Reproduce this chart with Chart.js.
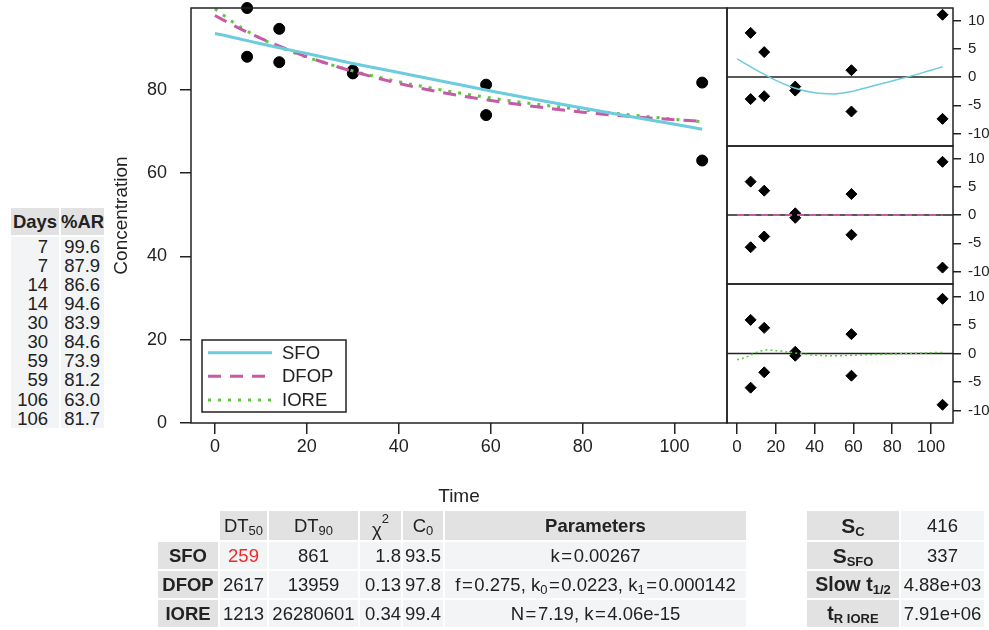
<!DOCTYPE html>
<html>
<head>
<meta charset="utf-8">
<script src="https://cdn.jsdelivr.net/npm/chart.js@4.4.1/dist/chart.umd.min.js"></script>
<style>
  body { margin: 0; background: #fff; font-family: "Liberation Sans", Arial, sans-serif; color: #222; }
  #wrap { position: relative; width: 989px; height: 630px; overflow: hidden; }
  canvas { position: absolute; }
  table { position: absolute; border-collapse: separate; border-spacing: 2px; font-size: 18.5px; }
  td { padding: 0; text-align: center; white-space: nowrap; }
  .hd { background: #e2e2e2; font-weight: bold; }
  .bd { background: #f2f4f5; }
  sub { font-size: 13px; vertical-align: -3px; line-height: 0; }
  sup { font-size: 13px; vertical-align: 9px; line-height: 0; }
</style>
</head>
<body>
<div id="wrap">
  <table id="obsTable" style="left:9px; top:206px;"></table>
  <canvas id="main" width="640" height="515" style="left:100px; top:0px;"></canvas>
  <canvas id="res1" width="269" height="153" style="left:720px; top:0px;"></canvas>
  <canvas id="res2" width="269" height="152" style="left:720px; top:139px;"></canvas>
  <canvas id="res3" width="269" height="201" style="left:720px; top:277px;"></canvas>
  <table id="fitTable" style="left:156px; top:509px;"></table>
  <table id="statTable" style="left:805px; top:509px;"></table>
</div>
<script>
// observed data
var days = [7, 7, 14, 14, 30, 30, 59, 59, 106, 106];
var pctAR = [99.6, 87.9, 86.6, 94.6, 83.9, 84.6, 73.9, 81.2, 63.0, 81.7];

// fitted curves
var fitTime = [0, 5, 10, 15, 20, 30, 40, 50, 60, 70, 80, 90, 100, 106];
var sfoFit  = [93.5, 92.3, 91.0, 89.8, 88.7, 86.3, 84.1, 81.9, 79.7, 77.6, 75.6, 73.6, 71.7, 70.5];
var dfopFit = [97.8, 94.9, 92.3, 90.0, 87.9, 84.4, 81.5, 79.2, 77.4, 75.9, 74.6, 73.6, 72.8, 72.4];
var ioreFit = [99.4, 95.4, 92.3, 89.8, 87.8, 84.5, 81.9, 79.8, 78.0, 76.5, 75.2, 74.0, 72.9, 72.3];

// residuals (same order as the observations)
var resSFO  = [7.8, -3.9, -3.4, 4.4, -2.4, -1.7, -6.1, 1.2, -7.4, 11.0];
var resDFOP = [5.9, -5.7, -3.8, 4.3, -0.5, 0.3, -3.5, 3.7, -9.3, 9.4];
var resIORE = [5.9, -6.0, -3.3, 4.5, -0.4, 0.3, -3.9, 3.4, -9.0, 9.6];

// smoothed residual trends
var smoothTimeSFO = [0, 10, 20, 30, 40, 50, 60, 70, 80, 90, 100, 106];
var smoothSFO     = [3.2, 1.2, -0.6, -2.0, -2.8, -3.0, -2.5, -1.6, -0.7, 0.2, 1.2, 1.8];
var smoothTimeDFOP = [0, 106];
var smoothDFOP     = [0, 0];
var smoothTimeIORE = [0, 5, 10, 15, 20, 30, 40, 50, 60, 80, 106];
var smoothIORE     = [-1.1, -0.6, 0.2, 0.6, 0.5, 0.1, -0.3, -0.4, -0.3, -0.1, 0.2];

var xTicks = [0, 20, 40, 60, 80, 100];
var yTicks = [0, 20, 40, 60, 80];
var resTicks = [-10, -5, 0, 5, 10];

// fit summary table
var models = ['SFO', 'DFOP', 'IORE'];
var dt50 = ['259', '2617', '1213'];
var dt90 = ['861', '13959', '26280601'];
var chi2 = ['1.8', '0.13', '0.34'];
var c0 = ['93.5', '97.8', '99.4'];
var params = [
  'k&#8202;=&#8202;0.00267',
  'f&#8202;=&#8202;0.275, k<sub>0</sub>&#8202;=&#8202;0.0223, k<sub>1</sub>&#8202;=&#8202;0.000142',
  'N&#8202;=&#8202;7.19, k&#8202;=&#8202;4.06e-15'
];
var statLabels = ['S<sub>C</sub>', 'S<sub>SFO</sub>', 'Slow t<sub>1/2</sub>', 't<sub>R IORE</sub>'];
var statValues = ['416', '337', '4.88e+03', '7.91e+06'];

var colSFO = '#6accdd', colDFOP = '#c65aa8', colIORE = '#5cc840';
var xMin = -5.2, xMax = 111.4;

Chart.defaults.font.family = "'Liberation Sans', Arial, sans-serif";
Chart.defaults.color = '#222';

function pts(xs, ys) {
  return xs.map(function (x, i) { return { x: x, y: ys[i] }; });
}

function noPad(s) {
  s.paddingTop = 0; s.paddingBottom = 0; s.paddingLeft = 0; s.paddingRight = 0;
}

var framePlugin = {
  id: 'frame',
  afterDraw: function (chart) {
    var a = chart.chartArea, c = chart.ctx;
    c.save();
    c.strokeStyle = '#222';
    c.lineWidth = 1.5;
    c.strokeRect(a.left, a.top, a.right - a.left, a.bottom - a.top);
    c.restore();
  }
};

var zeroPlugin = {
  id: 'zeroLine',
  beforeDatasetsDraw: function (chart) {
    var a = chart.chartArea, c = chart.ctx;
    var y = chart.scales.y.getPixelForValue(0);
    c.save();
    c.strokeStyle = '#222';
    c.lineWidth = 1.5;
    c.beginPath(); c.moveTo(a.left, y); c.lineTo(a.right, y); c.stroke();
    c.restore();
  }
};

var legendPlugin = {
  id: 'boxLegend',
  afterDraw: function (chart) {
    var a = chart.chartArea, c = chart.ctx;
    var L = a.left + 11, T = a.bottom - 83, W = 144, H = 72;
    c.save();
    c.fillStyle = '#fff';
    c.fillRect(L, T, W, H);
    c.strokeStyle = '#222';
    c.lineWidth = 1.5;
    c.strokeRect(L, T, W, H);
    var rows = chart.data.datasets.filter(function (d) { return d.showLine; });
    rows.forEach(function (d, i) {
      var y = T + 12.7 + i * 23.6;
      c.strokeStyle = d.borderColor;
      c.lineWidth = d.borderWidth;
      c.setLineDash(d.borderDash || []);
      c.beginPath(); c.moveTo(L + 6, y); c.lineTo(L + 70, y); c.stroke();
      c.setLineDash([]);
      c.fillStyle = '#222';
      c.font = "18.5px 'Liberation Sans', Arial, sans-serif";
      c.textBaseline = 'middle';
      c.fillText(d.label, L + 80, y + 1);
    });
    c.restore();
  }
};

function lineSet(label, xs, ys, color, dash, width) {
  return {
    label: label, data: pts(xs, ys), showLine: true, borderColor: color,
    borderWidth: width, borderDash: dash, pointRadius: 0, fill: false,
    cubicInterpolationMode: 'monotone'
  };
}

new Chart(document.getElementById('main'), {
  type: 'scatter',
  data: {
    datasets: [
      lineSet('SFO', fitTime, sfoFit, colSFO, [], 3),
      lineSet('DFOP', fitTime, dfopFit, colDFOP, [13, 9], 3),
      lineSet('IORE', fitTime, ioreFit, colIORE, [3, 7], 3),
      { label: 'obs', data: pts(days, pctAR), backgroundColor: '#000', borderColor: '#000',
        pointRadius: 5.5, pointHoverRadius: 5.5, clip: false }
    ]
  },
  options: {
    responsive: false, animation: false, devicePixelRatio: 1,
    layout: { padding: { top: 8, right: 13, bottom: 0, left: 0 } },
    plugins: { legend: { display: false }, tooltip: { enabled: false } },
    scales: {
      x: {
        type: 'linear', min: xMin, max: xMax,
        afterBuildTicks: function (s) { s.ticks = xTicks.map(function (v) { return { value: v }; }); },
        afterFit: function (s) { s.height = 92; noPad(s); },
        border: { display: false },
        grid: { drawOnChartArea: false, color: '#222', tickLength: 11, lineWidth: 1.5 },
        ticks: { font: { size: 18 }, padding: 2, maxRotation: 0, autoSkip: false },
        title: { display: true, text: 'Time', font: { size: 19 }, padding: { top: 0, bottom: 6.6 } }
      },
      y: {
        type: 'linear', min: 0, max: 99.6,
        afterBuildTicks: function (s) { s.ticks = yTicks.map(function (v) { return { value: v }; }); },
        afterFit: function (s) { s.width = 91; noPad(s); },
        border: { display: false },
        grid: { drawOnChartArea: false, color: '#222', tickLength: 11, lineWidth: 1.5 },
        ticks: { font: { size: 18 }, padding: 13, autoSkip: false },
        title: { display: true, text: 'Concentration', font: { size: 19 }, padding: { top: 10, bottom: 0 } }
      }
    }
  },
  plugins: [framePlugin, legendPlugin]
});

function residualChart(id, res, sTime, sVals, color, dash, width, padTop, padBottom, showX) {
  return new Chart(document.getElementById(id), {
    type: 'scatter',
    data: {
      datasets: [
        lineSet('trend', sTime, sVals, color, dash, width),
        { label: 'res', data: pts(days, res), backgroundColor: '#000', borderColor: '#000',
          pointStyle: 'rectRot', pointRadius: 5.5, pointHoverRadius: 5.5, clip: false }
      ]
    },
    options: {
      responsive: false, animation: false, devicePixelRatio: 1,
      layout: { padding: { top: padTop, right: 0, bottom: padBottom, left: 7 } },
      plugins: { legend: { display: false }, tooltip: { enabled: false } },
      scales: {
        x: {
          type: 'linear', min: xMin, max: xMax, display: showX,
          afterBuildTicks: function (s) { s.ticks = xTicks.map(function (v) { return { value: v }; }); },
          afterFit: function (s) { s.height = showX ? 55 : 0; noPad(s); },
          border: { display: false },
          grid: { drawOnChartArea: false, color: '#222', tickLength: 11, lineWidth: 1.5 },
          ticks: { font: { size: 17 }, padding: 3, maxRotation: 0, autoSkip: false }
        },
        y: {
          type: 'linear', min: -12.2, max: 12.2, position: 'right',
          afterBuildTicks: function (s) { s.ticks = resTicks.map(function (v) { return { value: v }; }); },
          afterFit: function (s) { s.width = 36; noPad(s); },
          border: { display: false },
          grid: { drawOnChartArea: false, color: '#222', tickLength: 8, lineWidth: 1.5 },
          ticks: { font: { size: 15 }, padding: 7, autoSkip: false }
        }
      }
    },
    plugins: [zeroPlugin, framePlugin]
  });
}

// panels: 8-146, 146-284, 284-423
residualChart('res1', resSFO, smoothTimeSFO, smoothSFO, colSFO, [], 1.5, 8, 7, false);
residualChart('res2', resDFOP, smoothTimeDFOP, smoothDFOP, colDFOP, [7, 5], 2, 7, 7, false);
residualChart('res3', resIORE, smoothTimeIORE, smoothIORE, colIORE, [2, 3], 1.5, 7, 0, true);

// observation table
var obsHtml = '<tr style="height:27px"><td class="hd" style="width:48px">Days</td>' +
  '<td class="hd" style="width:42px">%AR</td></tr>' +
  '<tr><td class="bd" style="text-align:right;padding-right:11px;line-height:19.07px">' +
  days.join('<br>') + '</td><td class="bd" style="text-align:right;padding-right:4px;line-height:19.07px">' +
  pctAR.map(function (v) { return v.toFixed(1); }).join('<br>') + '</td></tr>';
document.getElementById('obsTable').innerHTML = obsHtml;

// fit table
var widths = [60, 47, 89, 41, 40, 301];
var fitHtml = '<tr style="height:29px"><td style="width:' + widths[0] + 'px"></td>' +
  '<td class="hd" style="font-weight:normal;width:' + widths[1] + 'px">DT<sub>50</sub></td>' +
  '<td class="hd" style="font-weight:normal;width:' + widths[2] + 'px">DT<sub>90</sub></td>' +
  '<td class="hd" style="font-weight:normal;width:' + widths[3] + 'px"><span style="position:relative;top:4px">&chi;</span><sup>2</sup></td>' +
  '<td class="hd" style="font-weight:normal;width:' + widths[4] + 'px">C<sub>0</sub></td>' +
  '<td class="hd" style="width:' + widths[5] + 'px">Parameters</td></tr>';
models.forEach(function (m, i) {
  fitHtml += '<tr style="height:27px"><td class="hd">' + m + '</td>' +
    '<td class="bd"' + (i === 0 ? ' style="color:#ee2a2a"' : '') + '>' + dt50[i] + '</td>' +
    '<td class="bd">' + dt90[i] + '</td><td class="bd" style="text-align:right">' + chi2[i] + '</td>' +
    '<td class="bd">' + c0[i] + '</td><td class="bd">' + params[i] + '</td></tr>';
});
document.getElementById('fitTable').innerHTML = fitHtml;

// stat table
var statHtml = '';
statLabels.forEach(function (l, i) {
  statHtml += '<tr style="height:' + (i === 0 ? 29 : 27) + 'px"><td class="hd" style="width:92px;font-size:' +
    (i < 2 ? 21 : 19.5) + 'px">' + l + '</td><td class="bd" style="width:83px">' + statValues[i] + '</td></tr>';
});
document.getElementById('statTable').innerHTML = statHtml;
</script>
</body>
</html>
